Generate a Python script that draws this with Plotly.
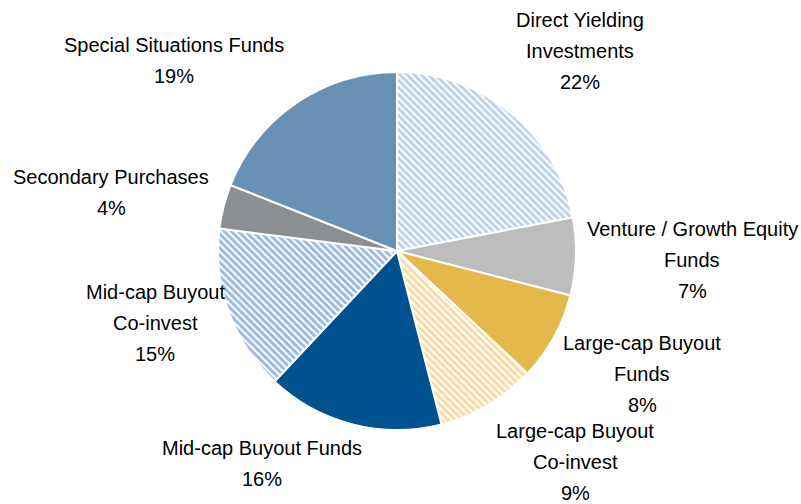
import plotly.graph_objects as go

categories = [
    "Direct Yielding Investments",
    "Venture / Growth Equity Funds",
    "Large-cap Buyout Funds",
    "Large-cap Buyout Co-invest",
    "Mid-cap Buyout Funds",
    "Mid-cap Buyout Co-invest",
    "Secondary Purchases",
    "Special Situations Funds",
]
display_labels = [
    "Direct Yielding<br>Investments",
    "Venture / Growth Equity<br>Funds",
    "Large-cap Buyout<br>Funds",
    "Large-cap Buyout<br>Co-invest",
    "Mid-cap Buyout Funds",
    "Mid-cap Buyout<br>Co-invest",
    "Secondary Purchases",
    "Special Situations Funds",
]
values = [22, 7, 8, 9, 16, 15, 4, 19]

colors = ["#7fa5cf", "#bdbdbd", "#e5b84b", "#edb94e", "#00518f", "#3a77ba", "#8c8f92", "#6891b4"]
hatched = [True, False, False, True, False, True, False, False]

# label anchor positions (pixels in 801x504 frame)
label_px = [(580, 51), (692, 260), (642, 374), (575, 462), (262, 463), (155, 323), (111, 192), (174, 60)]
line_gap = 31

W, H = 801, 504
cx, cy, r = 397, 251, 179

fills = ["#ffffff" if h else c for c, h in zip(colors, hatched)]

fig = go.Figure(go.Pie(
    labels=categories,
    values=values,
    sort=False,
    direction="clockwise",
    rotation=0,
    textinfo="none",
    hoverinfo="label+percent",
    marker=dict(
        colors=fills,
        line=dict(color="#ffffff", width=2),
        pattern=dict(
            shape=["\\" if h else "" for h in hatched],
            fgcolor=colors,
            bgcolor=fills,
            size=5,
            solidity=0.6,
            fillmode="overlay",
        ),
    ),
    domain=dict(x=[(cx - r) / W, (cx + r) / W], y=[(H - cy - r) / H, (H - cy + r) / H]),
    showlegend=False,
))

total = sum(values)
for lab, v, (px, py) in zip(display_labels, values, label_px):
    lines = lab.split("<br>") + [f"{round(100 * v / total)}%"]
    n = len(lines)
    for i, t in enumerate(lines):
        ly = py + (i - (n - 1) / 2) * line_gap
        fig.add_annotation(
            x=px / W, y=1 - ly / H, xref="paper", yref="paper",
            text=t,
            showarrow=False, xanchor="center", yanchor="middle", align="center",
            font=dict(family="Liberation Sans, Arial", size=20, color="#000000"),
        )

fig.update_layout(
    width=W, height=H,
    margin=dict(l=0, r=0, t=0, b=0),
    paper_bgcolor="#ffffff",
    plot_bgcolor="#ffffff",
)

fig.write_html(
    "out.html",
    config={"displayModeBar": False},
    post_script="document.body.style.margin='0';document.body.style.padding='0';",
)
